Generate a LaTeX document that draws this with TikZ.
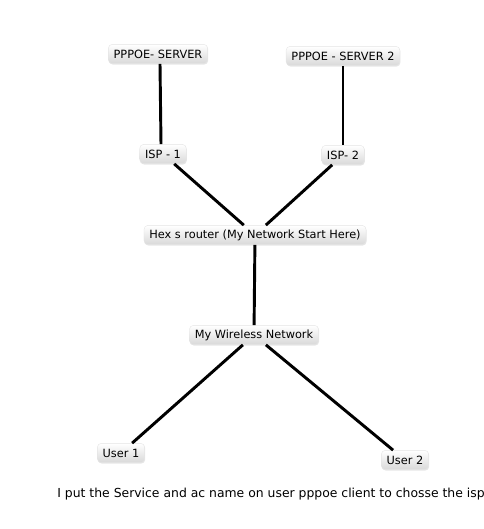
\documentclass[tikz,border=0pt]{standalone}
\usepackage{fontspec}
\setmainfont{DejaVu Sans}
\usetikzlibrary{shadows}
\tikzset{
  box/.style={rounded corners=3pt,inner xsep=4pt,inner ysep=2pt,minimum height=14.5pt,
              font=\fontsize{8.5}{10}\selectfont,top color=white,bottom color=gray!30,
              draw=gray!20,line width=0.3pt,
              drop shadow={opacity=0.2,shadow xshift=0.4pt,shadow yshift=-0.7pt}},
  ln/.style={line width=2.2pt,black},
}

\begin{document}
\begin{tikzpicture}[x=0.75pt,y=-0.75pt]
\useasboundingbox (0,0) rectangle (483,529);
% servers
\node[box] (srv1) at (158,54)  {PPPOE- SERVER};
\node[box] (srv2) at (343,56)  {PPPOE - SERVER 2};
% isps
\node[box] (isp1) at (163,154) {ISP - 1};
\node[box] (isp2) at (343,155) {ISP- 2};
% core
\node[box] (rtr)  at (255,235) {Hex s router (My Network Start Here)};
\node[box] (wlan) at (254,335) {My Wireless Network};
% users
\node[box] (usr1) at (121,453) {User 1};
\node[box] (usr2) at (405,460) {User 2};
\node[font=\fontsize{9.3}{11}\selectfont] (note) at (271,494) {I put the Service and ac name on user pppoe client to chosse the isp};
% links
\draw[ln] (srv1.south -| 160,0) -- (isp1.north -| 161,0);
\draw[ln] (srv2) -- (isp2);
\draw[ln] (isp1) -- (rtr);
\draw[ln] (isp2) -- (rtr);
\draw[ln] (rtr) -- (wlan);
\draw[ln] (wlan) -- (usr1);
\draw[ln] (wlan) -- (usr2);
\end{tikzpicture}
\end{document}
